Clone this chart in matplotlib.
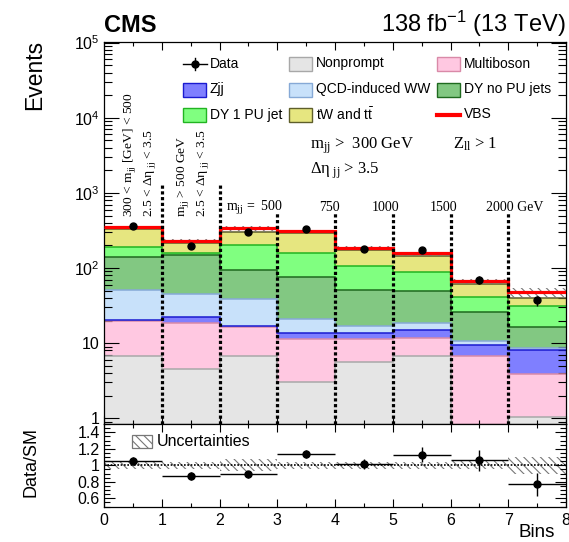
import matplotlib
matplotlib.use("Agg")
import matplotlib.pyplot as plt
import numpy as np
from matplotlib.patches import Rectangle
from matplotlib.lines import Line2D
from matplotlib.ticker import (LogLocator, MultipleLocator, FuncFormatter,
                               NullFormatter)

plt.rcParams["font.family"] = ["Liberation Sans", "DejaVu Sans"]
plt.rcParams["mathtext.fontset"] = "custom"
plt.rcParams["mathtext.rm"] = "Liberation Sans"
plt.rcParams["mathtext.it"] = "Liberation Sans:italic"
plt.rcParams["mathtext.bf"] = "Liberation Sans:bold"
plt.rcParams["hatch.linewidth"] = 0.8

# ---------------- data ----------------
bin_edges = [0, 1, 2, 3, 4, 5, 6, 7, 8]
nonprompt = [6.8, 4.5, 6.8, 3.0, 5.7, 6.8, 0.5, 1.05]
multiboson = [13.0, 13.8, 9.7, 8.3, 5.6, 4.9, 6.3, 2.85]
zjj = [0.8, 4.3, 0.3, 2.5, 2.3, 3.3, 2.7, 4.2]
qcd_ww = [30.4, 22.4, 22.2, 7.5, 3.4, 3.3, 1.2, 0.4]
dy_no_pu = [89, 104, 56, 55.2, 34, 31.7, 15.2, 8.1]
dy_1_pu = [51, 9, 108, 81.5, 54, 38, 15.1, 14.2]
tw_ttbar = [143, 57, 99, 135, 70, 55, 21, 9.7]
vbs = [18, 16, 39, 18, 12, 15, 6, 8.2]
data = [359, 194, 302, 334, 181, 172, 70, 37]
data_err = [19, 14, 17, 18, 13, 13, 8.5, 6]
ratio = [1.05, 0.87, 0.89, 1.14, 1.01, 1.13, 1.06, 0.77]
ratio_err = [0.05, 0.05, 0.04, 0.05, 0.06, 0.09, 0.13, 0.14]
rel_unc = [0.04, 0.04, 0.07, 0.04, 0.04, 0.04, 0.05, 0.10]

mjj_labels = ["m$_{\\mathregular{jj}}$ =  500", "750", "1000", "1500", "2000 GeV"]

# ---------------- figure layout ----------------
W, H = 569, 542
fig = plt.figure(figsize=(W / 100, H / 100), dpi=100)


def P(x, y):
    return (x / W, 1 - y / H)


left, right = 104, 566
top_main, bot_main, bot_ratio = 42, 424, 506.5
ax = fig.add_axes([left / W, 1 - bot_main / H, (right - left) / W,
                   (bot_main - top_main) / H])
rx = fig.add_axes([left / W, 1 - bot_ratio / H, (right - left) / W,
                   (bot_ratio - bot_main) / H])

edges = np.array(bin_edges, dtype=float)
centers = 0.5 * (edges[:-1] + edges[1:])

processes = [
    ("Nonprompt", nonprompt, "#e5e5e5", "#a8a8a8"),
    ("Multiboson", multiboson, "#ffc8e1", "#d98aa8"),
    ("Zjj", zjj, "#7f7fff", "#1a1ad0"),
    ("QCD-induced WW", qcd_ww, "#c8e1fa", "#86a9d6"),
    ("DY no PU jets", dy_no_pu, "#82c882", "#1f6a1f"),
    ("DY 1 PU jet", dy_1_pu, "#80ff80", "#22b422"),
    ("tW and t$\\bar{\\mathrm{t}}$", tw_ttbar, "#e6e680", "#5e5e2a"),
]

base = np.full(len(centers), 1e-3)
for name, vals, fc, ec in processes:
    top = base + np.array(vals)
    ax.stairs(top, edges, baseline=base, fill=True, facecolor=fc,
              edgecolor="none", lw=0, zorder=1)
    ax.stairs(top, edges, baseline=None, color=ec, lw=1.1, zorder=2)
    base = top

total = base + np.array(vbs)
unc = np.array(rel_unc)
ax.stairs(total * (1 + unc), edges, baseline=base.clip(max=total * (1 - unc)),
          fill=True, facecolor="none", edgecolor="#777777", hatch="\\\\\\\\",
          lw=0, zorder=3)
ax.stairs(total, edges, baseline=None, color="#ff0000", lw=2.3, zorder=4)

# region separators
for x in [1, 2]:
    ax.axvline(x, ymin=0, ymax=(bot_main - 183) / (bot_main - top_main),
               color="black", lw=2.3, ls=(0, (1, 0.8)), zorder=5)
for x in [3, 4, 5, 6, 7]:
    ax.axvline(x, ymin=0, ymax=(bot_main - 213) / (bot_main - top_main),
               color="black", lw=2.3, ls=(0, (1, 0.8)), zorder=5)

ax.errorbar(centers, data, yerr=data_err, fmt="o", color="black", ms=5,
            elinewidth=1, capsize=0, zorder=6)

ax.set_yscale("log")
ax.set_xlim(0, 8)
ax.set_ylim(0.84, 1.02e5)


def log_fmt(v, pos):
    n = int(round(np.log10(v)))
    if n == 0:
        return "1"
    if n == 1:
        return "10"
    return "10$^{\\mathregular{%d}}$" % n


ax.yaxis.set_major_locator(LogLocator(base=10, numticks=10))
ax.yaxis.set_minor_locator(LogLocator(base=10, subs=np.arange(2, 10), numticks=20))
ax.yaxis.set_major_formatter(FuncFormatter(log_fmt))
ax.yaxis.set_minor_formatter(NullFormatter())
ax.xaxis.set_major_locator(MultipleLocator(1))
ax.xaxis.set_minor_locator(MultipleLocator(0.5))
ax.tick_params(axis="x", which="both", labelbottom=False)

for a in (ax, rx):
    a.tick_params(which="both", direction="in", top=True, right=True)
    a.tick_params(axis="y", which="major", length=11, width=0.8, labelsize=11.5, pad=3)
    a.tick_params(axis="y", which="minor", length=5.5, width=0.8)
    a.tick_params(axis="x", which="major", length=5.5, width=0.8, labelsize=11.5)
    a.tick_params(axis="x", which="minor", length=3, width=0.8)
    for s in a.spines.values():
        s.set_linewidth(0.9)
rx.tick_params(axis="y", which="major", length=8)
rx.tick_params(axis="y", which="minor", length=4)

# ---------------- ratio panel ----------------
rx.stairs(1 + unc, edges, baseline=1 - unc, fill=True, facecolor="none",
          edgecolor="#777777", hatch="\\\\\\\\", lw=0, zorder=1)
rx.axhline(1, color="black", lw=1.2, ls=(0, (1, 1)), zorder=2)
rx.errorbar(centers, ratio, yerr=ratio_err, xerr=0.5, fmt="o", color="black",
            ms=5, elinewidth=1, capsize=0, zorder=3)
rx.set_xlim(0, 8)
rx.set_ylim(0.5, 1.5)
rx.yaxis.set_major_locator(MultipleLocator(0.2))
rx.yaxis.set_minor_locator(MultipleLocator(0.05))
rx.yaxis.set_major_formatter(FuncFormatter(
    lambda v, p: "" if v < 0.55 or v > 1.45 else ("%g" % round(v, 1))))
rx.xaxis.set_major_locator(MultipleLocator(1))
rx.xaxis.set_minor_locator(MultipleLocator(0.5))
rx.tick_params(axis="x", which="major", pad=5)

# uncertainty legend in ratio panel
fig.add_artist(Rectangle(P(132, 448), 20 / W, 13 / H, transform=fig.transFigure,
                         facecolor="white", edgecolor="#777777",
                         hatch="\\\\\\\\", lw=0.9))
fig.text(*P(157, 441), "Uncertainties", fontsize=11.5, va="center", ha="left")

# ---------------- labels ----------------
fig.text(*P(104, 32), "CMS", fontsize=17, weight="bold", ha="left", va="baseline")
fig.text(*P(566, 32), "138 fb$^{\\mathregular{-1}}$ (13 TeV)", fontsize=17,
         ha="right", va="baseline")
fig.text(*P(35, 40), "Events", fontsize=16.5, rotation=90, ha="center", va="top")
fig.text(*P(31, 427), "Data/SM", fontsize=13, rotation=90, ha="center", va="top")
fig.text(*P(555, 541), "Bins", fontsize=13.5, ha="right", va="bottom")

# ---------------- legend ----------------
rows = [63.5, 89.5, 114.5]
box_x = [183, 289, 437]
txt_x = [210, 316, 464]
entries = [
    [("data", "Data"), ("Nonprompt", None), ("Multiboson", None)],
    [("Zjj", None), ("QCD-induced WW", None), ("DY no PU jets", None)],
    [("DY 1 PU jet", None), ("tW and t$\\bar{\\mathrm{t}}$", None), ("vbs", "VBS")],
]
style = {name: (fc, ec) for name, _, fc, ec in processes}
for r, row in enumerate(entries):
    yc = rows[r]
    for c, (key, label) in enumerate(row):
        x0 = box_x[c]
        if key == "data":
            fig.add_artist(Line2D([x0 / W, (x0 + 24) / W], [1 - yc / H] * 2,
                                  transform=fig.transFigure, color="black", lw=1))
            fig.add_artist(Line2D([(x0 + 12) / W] * 2,
                                  [1 - (yc - 6) / H, 1 - (yc + 6) / H],
                                  transform=fig.transFigure, color="black", lw=1))
            fig.add_artist(Line2D([(x0 + 12) / W], [1 - yc / H],
                                  transform=fig.transFigure, marker="o", ms=5,
                                  color="black", ls="none"))
        elif key == "vbs":
            fig.add_artist(Line2D([x0 / W, (x0 + 23) / W], [1 - yc / H] * 2,
                                  transform=fig.transFigure, color="#ff0000", lw=3))
        else:
            fc, ec = style[key]
            fig.add_artist(Rectangle(P(x0, yc + 7), 23 / W, 14 / H,
                                     transform=fig.transFigure, facecolor=fc,
                                     edgecolor=ec, lw=1))
            label = key
        fig.text(*P(txt_x[c], yc), label, fontsize=10, ha="left", va="center")

# ---------------- selection text ----------------
serif = ["Liberation Serif", "DejaVu Serif"]
fig.text(*P(310, 148), "m$_{\\mathregular{jj}}$ >  300 GeV", family=serif,
         fontsize=12, ha="left", va="baseline")
fig.text(*P(453, 148), "Z$_{\\mathregular{ll}}$ > 1", family=serif,
         fontsize=12, ha="left", va="baseline")
fig.text(*P(310, 173), "Δη$_{\\mathregular{\\ jj}}$ > 3.5", family=serif,
         fontsize=12, ha="left", va="baseline")

# bin-range labels along the top of the separators
mjj_x = [283, 340, 399, 457, 543]
for lab, x in zip(mjj_labels, mjj_x):
    fig.text(*P(x, 211), lab, family=serif, fontsize=10, ha="right",
             va="baseline")

rot_labels = [
    (129, "300 < m$_{\\mathregular{jj}}$ [GeV] < 500"),
    (150, "2.5 < Δη$_{\\mathregular{\\ jj}}$ < 3.5"),
    (183, "m$_{\\mathregular{jj}}$ > 500 GeV"),
    (203, "2.5 < Δη$_{\\mathregular{\\ jj}}$ < 3.5"),
]
for x, lab in rot_labels:
    fig.text(*P(x, 217), lab, family=serif, fontsize=9.7, rotation=90,
             ha="center", va="bottom")

fig.savefig("out.png", dpi=100)
